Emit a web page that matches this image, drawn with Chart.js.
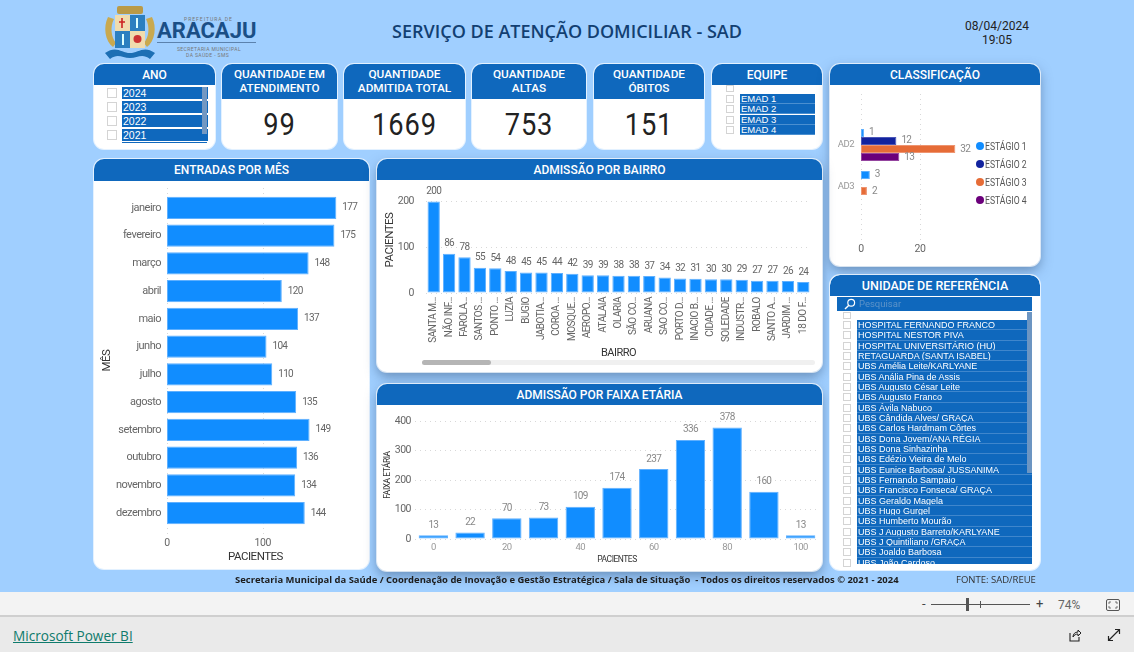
<!DOCTYPE html>
<html lang="pt-BR">
<head>
<meta charset="utf-8">
<title>Serviço de Atenção Domiciliar - SAD</title>
<script src="https://cdn.jsdelivr.net/npm/chart.js@4"></script>
<style>
  html, body { margin: 0; padding: 0; }
  body { width: 1134px; height: 652px; overflow: hidden; position: relative; background: #A0CFFF; font-family: Roboto, sans-serif; }
  .abs, .card, .head, canvas, .txt { position: absolute; }
  .card { background: #fff; border-radius: 10px; box-shadow: 0 0 0 1px rgba(255,255,255,.7); }
  .card.shadow { box-shadow: 0 0 0 1px rgba(255,255,255,.7), 0 5px 12px rgba(50,80,120,.5); }
  .head { left: 0; top: 0; width: 100%; background: #0F68BD; border-radius: 10px 10px 0 0; color: #fff; font-weight: 500; text-align: center; font-size: 12px; line-height: 13.5px; box-sizing: border-box; }
  .kpi { position: absolute; left: 0; width: 100%; top: 43px; text-align: center; font-size: 31px; line-height: 36px; color: #222; letter-spacing: 1px; transform: scaleX(.88); }
  .row { position: absolute; background: #0F68BD; color: #fff; white-space: nowrap; overflow: hidden; font-family: "Liberation Sans", sans-serif; }
  .check { position: absolute; box-sizing: border-box; border: 1px solid #d4d4d4; background: #fff; }
  .txt { white-space: nowrap; }
  .leg { font-size: 11.5px; line-height: 14px; color: #555; transform: scaleX(.75); transform-origin: left center; }
</style>
</head>
<body>
<!-- logo -->
<svg class="abs" style="left:102px;top:3px" width="56" height="57" viewBox="0 0 56 57">
  <path d="M6 14 C1 24 3 38 11 44 L14 40 C9 34 8 24 12 16Z M50 14 C55 24 53 38 45 44 L42 40 C47 34 48 24 44 16Z" fill="#c9a94f"/>
  <rect x="15" y="3" width="26" height="8" rx="2" fill="#b99a48"/>
  <rect x="13" y="12" width="15" height="16" fill="#f0dcae"/>
  <rect x="28" y="12" width="15" height="16" fill="#2b7fc0"/>
  <rect x="13" y="28" width="15" height="17" fill="#2b7fc0"/>
  <rect x="28" y="28" width="15" height="17" fill="#f0dcae"/>
  <path d="M20 15v10M17 19h6" stroke="#c22" stroke-width="1.6"/>
  <circle cx="35.5" cy="36" r="4" fill="#c33"/>
  <path d="M35 15v10M21 31v11" stroke="#dff" stroke-width="2"/>
  <path d="M3 50 C14 42 20 50 28 50 C36 50 42 42 53 50 L48 56 C40 50 36 55 28 55 C20 55 16 50 8 56Z" fill="#1d6fb4"/>
</svg>
<div class="txt" style="left:184px;top:16px;font-size:5px;letter-spacing:1px;color:#777">PREFEITURA DE</div>
<div class="txt" style="left:157px;top:17px;font:700 22px/28px Roboto;color:#1B4F86">ARACAJU</div>
<div class="abs" style="left:157px;top:42px;width:99px;height:1px;background:#5b82ad"></div>
<div class="txt" style="left:177px;top:46px;font-size:5px;line-height:6px;letter-spacing:.4px;color:#777">SECRETARIA MUNICIPAL</div>
<div class="txt" style="left:186px;top:52px;font-size:5px;line-height:6px;letter-spacing:.4px;color:#777">DA SAÚDE - SMS</div>

<div class="txt" style="left:267px;width:600px;top:20px;text-align:center;font:600 18px/23px 'Open Sans';color:#123F72">SERVIÇO DE ATENÇÃO DOMICILIAR - SAD</div>
<div class="txt" style="left:947px;width:100px;top:19px;text-align:center;font-size:12px;line-height:14px;color:#222">08/04/2024<br>19:05</div>

<!-- cards -->
<div class="card" id="cardAno" style="left:94px;top:64px;width:121px;height:85px"><div class="head" style="height:21px;line-height:22px">ANO</div></div>
<div class="card" style="left:222px;top:64px;width:115px;height:85px"><div class="head" style="height:35px;padding-top:4px;font-size:11.7px">QUANTIDADE EM<br>ATENDIMENTO</div><div class="kpi">99</div></div>
<div class="card" style="left:344px;top:64px;width:121px;height:85px"><div class="head" style="height:35px;padding-top:4px;font-size:11.8px">QUANTIDADE<br>ADMITIDA TOTAL</div><div class="kpi">1669</div></div>
<div class="card" style="left:472px;top:64px;width:114px;height:85px"><div class="head" style="height:35px;padding-top:4px;font-size:11.8px">QUANTIDADE<br>ALTAS</div><div class="kpi">753</div></div>
<div class="card" style="left:594px;top:64px;width:110px;height:85px"><div class="head" style="height:35px;padding-top:4px;font-size:11.8px">QUANTIDADE<br>ÓBITOS</div><div class="kpi">151</div></div>
<div class="card" id="cardEquipe" style="left:712px;top:64px;width:110px;height:85px"><div class="head" style="height:21px;line-height:22px">EQUIPE</div></div>

<div class="card shadow" style="left:830px;top:64px;width:210px;height:202px">
  <div class="head" style="height:21px;line-height:22px">CLASSIFICAÇÃO</div>
  <canvas id="chartClass" width="210" height="181" style="left:0;top:21px"></canvas>
  <div id="legendClass"></div>
</div>

<div class="card" style="left:94px;top:159px;width:275px;height:410px">
  <div class="head" style="height:22px;line-height:22px">ENTRADAS POR MÊS</div>
  <canvas id="chartMes" width="275" height="388" style="left:0;top:22px"></canvas>
</div>

<div class="card shadow" style="left:377px;top:159px;width:445px;height:213px">
  <div class="head" style="height:21px;line-height:22px">ADMISSÃO POR BAIRRO</div>
  <canvas id="chartBairro" width="445" height="192" style="left:0;top:21px"></canvas>
  <div class="abs" style="left:45px;top:201px;width:393px;height:5px;border-radius:3px;background:#f0f0f0"></div>
  <div class="abs" style="left:45px;top:201px;width:69px;height:5px;border-radius:3px;background:#b5b5b5"></div>
</div>

<div class="card shadow" style="left:377px;top:384px;width:445px;height:187px">
  <div class="head" style="height:21px;line-height:22px">ADMISSÃO POR FAIXA ETÁRIA</div>
  <canvas id="chartFaixa" width="445" height="166" style="left:0;top:21px"></canvas>
</div>

<div class="card" id="cardUnidade" style="left:830px;top:275px;width:210px;height:295px;overflow:hidden">
  <div class="head" style="height:21px;line-height:22px;font-size:12.5px">UNIDADE DE REFERÊNCIA</div>
  <div class="abs" style="left:7px;top:22px;width:195px;height:14px;background:#0F68BD"></div>
  <svg class="abs" style="left:14px;top:23px" width="12" height="12" viewBox="0 0 12 12"><circle cx="7.2" cy="4.8" r="3.4" fill="none" stroke="#fff" stroke-width="1.2"/><path d="M4.6 7.4L1 11" stroke="#fff" stroke-width="1.4"/></svg>
  <div class="txt" style="left:29px;top:23px;font-size:9.5px;line-height:12px;color:#5d93c8">Pesquisar</div>
</div>

<!-- rodapé -->
<div class="txt" style="left:235px;top:574px;font:700 9.45px/12px 'Open Sans';color:#1d1d1d">Secretaria Municipal da Saúde / Coordenação de Inovação e Gestão Estratégica / Sala de Situação&nbsp; - Todos os direitos reservados © 2021 - 2024</div>
<div class="txt" style="left:956px;top:574px;font:400 9.5px/12px 'Open Sans';color:#333">FONTE: SAD/REUE</div>

<div class="abs" style="left:0;top:592px;width:1134px;height:23px;background:#f3f3f3;border-bottom:2px solid #cfcfcf"></div>
<div class="abs" style="left:0;top:617px;width:1134px;height:35px;background:#eaeaea"></div>
<div class="txt" style="left:922px;top:597px;font-size:13px;line-height:14px;color:#444">-</div>
<div class="abs" style="left:931px;top:604px;width:99px;height:1px;background:#555"></div>
<div class="abs" style="left:966px;top:598px;width:3px;height:13px;background:#555"></div>
<div class="abs" style="left:980px;top:601px;width:1px;height:7px;background:#555"></div>
<div class="txt" style="left:1036px;top:597px;font-size:13px;line-height:14px;color:#444">+</div>
<div class="txt" style="left:1058px;top:598px;font-size:12px;line-height:14px;color:#666">74%</div>
<svg class="abs" style="left:1106px;top:599px" width="14" height="12" viewBox="0 0 14 12"><rect x=".5" y=".5" width="13" height="11" rx="1.5" fill="none" stroke="#555"/><path d="M3 5V3h2M9 3h2v2M11 7v2H9M5 9H3V7" fill="none" stroke="#555" stroke-width=".8"/></svg>
<a class="txt" style="left:13px;top:627px;font:400 13.6px/18px 'Open Sans';color:#0F7B6C;text-decoration:underline">Microsoft Power BI</a>
<svg class="abs" style="left:1068px;top:628px" width="14" height="14" viewBox="0 0 14 14"><path d="M2 5v8h9V9" fill="none" stroke="#222" stroke-width="1.1"/><path d="M5 9c0-3 2-5 5-5V2l3 3-3 3V6C8 6 6 7 5 9z" fill="none" stroke="#222" stroke-width="1"/></svg>
<svg class="abs" style="left:1107px;top:628px" width="14" height="14" viewBox="0 0 14 14"><path d="M2 12L12 2M8 1.5h4.5V6M1.500 8v4.500H6" fill="none" stroke="#222" stroke-width="1.200"/></svg>

<script>
const anos = ['2024', '2023', '2022', '2021'];
const equipes = ['EMAD 1', 'EMAD 2', 'EMAD 3', 'EMAD 4'];
const unidades = [
    'HOSPITAL FERNANDO FRANCO', 'HOSPITAL NESTOR PIVA', 'HOSPITAL UNIVERSITÁRIO (HU)',
    'RETAGUARDA (SANTA ISABEL)', 'UBS Amélia Leite/KARLYANE', 'UBS Anália Pina de Assis',
    'UBS Augusto César Leite', 'UBS Augusto Franco', 'UBS Ávila Nabuco',
    'UBS Cândida Alves/ GRAÇA', 'UBS Carlos Hardmam Côrtes', 'UBS Dona Jovem/ANA RÉGIA',
    'UBS Dona Sinhazinha', 'UBS Edézio Vieira de Melo', 'UBS Eunice Barbosa/ JUSSANIMA',
    'UBS Fernando Sampaio', 'UBS Francisco Fonseca/ GRAÇA', 'UBS Geraldo Magela',
    'UBS Hugo Gurgel', 'UBS Humberto Mourão', 'UBS J Augusto Barreto/KARLYANE',
    'UBS J Quintiliano /GRAÇA', 'UBS Joaldo Barbosa', 'UBS João Cardoso',
];

const meses = ['janeiro', 'fevereiro', 'março', 'abril', 'maio', 'junho', 'julho', 'agosto', 'setembro', 'outubro', 'novembro', 'dezembro'];
const entradasMes = [177, 175, 148, 120, 137, 104, 110, 135, 149, 136, 134, 144];

const bairros = ['SANTA M...', 'NÃO INF...', 'FAROLA...', 'SANTOS ...', 'PONTO ...', 'LUZIA', 'BUGIO', 'JABOTIA...', 'COROA ...', 'MOSQUE...', 'AEROPO...', 'ATALAIA', 'OLARIA', 'SÃO CO...', 'ARUANA', 'SAO CO...', 'PORTO D...', 'INACIO B...', 'CIDADE ...', 'SOLEDADE', 'INDUSTR...', 'ROBALO', 'SANTO A...', 'JARDIM ...', '18 DO F...'];
const admissaoBairro = [200, 86, 78, 55, 54, 48, 45, 45, 44, 42, 39, 39, 38, 38, 37, 34, 32, 31, 30, 30, 29, 27, 27, 26, 24];

const faixas = [0, 10, 20, 30, 40, 50, 60, 70, 80, 90, 100];
const admissaoFaixa = [13, 22, 70, 73, 109, 174, 237, 336, 378, 160, 13];

const classes = ['AD2', 'AD3'];
const estagios = ['ESTÁGIO 1', 'ESTÁGIO 2', 'ESTÁGIO 3', 'ESTÁGIO 4'];
const estagio1 = [1, 3];
const estagio2 = [12, null];
const estagio3 = [32, 2];
const estagio4 = [13, null];

(() => {
    'use strict';

    const BLUE = '#118DFF', NAVY = '#12239E', ORANGE = '#E66C37', PURPLE = '#6B007B';
    const FONT = 'Roboto, sans-serif';

    Chart.defaults.font.family = FONT;
    Chart.defaults.font.size = 11;
    Chart.defaults.color = '#666';
    Chart.defaults.animation = false;

    // A fonte original é mais estreita: aperta o texto de todos os gráficos
    Chart.register({
        id: 'tightText',
        beforeDraw(chart) { chart.ctx.letterSpacing = '-0.5px'; },
    });

    // Rótulo de valor em cada barra
    const barLabels = {
        id: 'barLabels',
        afterDatasetsDraw(chart, args, opts) {
            const ctx = chart.ctx;
            ctx.save();
            ctx.font = (opts.size || 10) + 'px ' + FONT;
            ctx.letterSpacing = '-0.7px';
            ctx.fillStyle = opts.color || '#777';
            chart.data.datasets.forEach((ds, i) => {
                chart.getDatasetMeta(i).data.forEach((el, j) => {
                    if (ds.data[j] == null) return;
                    if (chart.options.indexAxis === 'y') {
                        ctx.textAlign = 'left';
                        ctx.textBaseline = 'middle';
                        ctx.fillText(ds.data[j], el.x + (opts.gap || 5), el.y);
                    } else {
                        ctx.textAlign = 'center';
                        ctx.textBaseline = 'bottom';
                        ctx.fillText(ds.data[j], el.x, el.y - (opts.gap || 4));
                    }
                });
            });
            ctx.restore();
        },
    };

    // Grade pontilhada vertical que passa além da área do gráfico
    const longGrid = {
        id: 'longGrid',
        beforeDatasetsDraw(chart, args, opts) {
            if (!opts.top && !opts.bottom) return;
            const { ctx, chartArea, scales } = chart;
            ctx.save();
            ctx.strokeStyle = '#d8d8d8';
            ctx.setLineDash([1, 4]);
            scales.x.ticks.forEach((t) => {
                const x = Math.round(scales.x.getPixelForValue(t.value)) + 0.5;
                ctx.beginPath();
                ctx.moveTo(x, chartArea.top - opts.top);
                ctx.lineTo(x, chartArea.bottom + opts.bottom);
                ctx.stroke();
            });
            ctx.restore();
        },
    };

    // Tamanho fixo do eixo, para a área do gráfico cair no lugar certo
    function fixed(size) {
        return (s) => {
            if (s.isHorizontal()) {
                s.height = size;
                s.paddingLeft = 0;
                s.paddingRight = 0;
            } else {
                s.width = size;
                s.paddingTop = 0;
                s.paddingBottom = 0;
            }
        };
    }

    const dotted = { dash: [1, 4], display: false };
    const noGrid = { display: false, drawTicks: false };
    const noBorder = { display: false };

    function barSet(label, data, color, border) {
        return { label, data, backgroundColor: color, borderColor: border, borderWidth: 1, borderSkipped: false };
    }

    function buildMes() {
        new Chart(document.getElementById('chartMes'), {
            type: 'bar',
            data: { labels: meses, datasets: [{ ...barSet('Entradas', entradasMes, BLUE, '#5FB0FF'), categoryPercentage: 0.8, barPercentage: 1 }] },
            plugins: [barLabels, longGrid],
            options: {
                indexAxis: 'y', responsive: false,
                layout: { padding: { top: 13, right: 25 } },
                plugins: { legend: { display: false }, tooltip: { enabled: false }, barLabels: { size: 10, gap: 6, color: '#666' }, longGrid: { top: 6, bottom: 8 } },
                scales: {
                    x: {
                        min: 0, max: 185, afterFit: fixed(42),
                        grid: noGrid, border: noBorder,
                        ticks: { stepSize: 100, includeBounds: false, padding: 10, maxRotation: 0, font: { size: 10.5 } },
                        title: { display: true, text: 'PACIENTES', color: '#333', font: { size: 11.5 }, padding: { top: 0, bottom: 5 } },
                    },
                    y: {
                        afterFit: fixed(73),
                        grid: noGrid, border: noBorder,
                        ticks: { padding: 6, autoSkip: false, font: { size: 11 } },
                        title: { display: true, text: 'MÊS', color: '#333', font: { size: 11.5 }, padding: { top: 6, bottom: 0 } },
                    },
                },
            },
        });
    }

    function buildBairro() {
        new Chart(document.getElementById('chartBairro'), {
            type: 'bar',
            data: { labels: bairros, datasets: [{ ...barSet('Admissões', admissaoBairro, BLUE, '#5FB0FF'), categoryPercentage: 0.8, barPercentage: 1 }] },
            plugins: [barLabels],
            options: {
                responsive: false,
                layout: { padding: { top: 7, right: 11 } },
                plugins: { legend: { display: false }, tooltip: { enabled: false }, barLabels: { size: 10, gap: 5, color: '#666' } },
                scales: {
                    x: {
                        afterFit: fixed(79),
                        grid: noGrid, border: noBorder,
                        ticks: { autoSkip: false, minRotation: 90, maxRotation: 90, padding: 4, font: { size: 10 } },
                        title: { display: true, text: 'BAIRRO', color: '#333', font: { size: 11 }, padding: { top: 0, bottom: 12 } },
                    },
                    y: {
                        min: 0, max: 232, afterFit: fixed(49),
                        grid: { color: '#d8d8d8', drawTicks: false }, border: dotted,
                        ticks: { stepSize: 100, includeBounds: false, padding: 12, font: { size: 10.5 } },
                        title: { display: true, text: 'PACIENTES', color: '#333', font: { size: 11.5 }, padding: { top: 6, bottom: 0 } },
                    },
                },
            },
        });
    }

    function buildFaixa() {
        new Chart(document.getElementById('chartFaixa'), {
            type: 'bar',
            data: { labels: faixas, datasets: [{ ...barSet('Admissões', admissaoFaixa, BLUE, '#5FB0FF'), categoryPercentage: 0.8, barPercentage: 1 }] },
            plugins: [barLabels],
            options: {
                responsive: false,
                layout: { padding: { top: 6, right: 3 } },
                plugins: { legend: { display: false }, tooltip: { enabled: false }, barLabels: { size: 10, gap: 5, color: '#888' } },
                scales: {
                    x: {
                        afterFit: fixed(32),
                        grid: noGrid, border: noBorder,
                        ticks: {
                            autoSkip: false, maxRotation: 0, padding: 3, color: '#999', font: { size: 9.5 },
                            callback: (v, i) => (i % 2 ? '' : faixas[i]),
                        },
                        title: { display: true, text: 'PACIENTES', color: '#333', font: { size: 8.5 }, padding: { top: 0, bottom: 6 } },
                    },
                    y: {
                        min: 0, max: 434, afterFit: fixed(38),
                        grid: { color: '#d8d8d8', drawTicks: false }, border: dotted,
                        ticks: { stepSize: 100, includeBounds: false, padding: 4, font: { size: 10.5 } },
                        title: { display: true, text: 'FAIXA ETÁRIA', color: '#333', font: { size: 8.5 }, padding: { top: 6, bottom: 0 } },
                    },
                },
            },
        });
    }

    function buildClass() {
        const pct = { categoryPercentage: 0.762, barPercentage: 1 };
        new Chart(document.getElementById('chartClass'), {
            type: 'bar',
            data: {
                labels: classes,
                datasets: [
                    { ...barSet(estagios[0], estagio1, BLUE, '#5FB0FF'), ...pct },
                    { ...barSet(estagios[1], estagio2, NAVY, '#4A56B8'), ...pct },
                    { ...barSet(estagios[2], estagio3, ORANGE, '#EE9470'), ...pct },
                    { ...barSet(estagios[3], estagio4, PURPLE, '#94459F'), ...pct },
                ],
            },
            plugins: [barLabels, longGrid],
            options: {
                indexAxis: 'y', responsive: false,
                layout: { padding: { top: 39, right: 64 } },
                plugins: { legend: { display: false }, tooltip: { enabled: false }, barLabels: { size: 10, gap: 5, color: '#888' }, longGrid: { top: 30, bottom: 34 } },
                scales: {
                    x: {
                        min: 0, max: 39, afterFit: fixed(58),
                        grid: noGrid, border: noBorder,
                        ticks: { stepSize: 20, includeBounds: false, padding: 35, maxRotation: 0, font: { size: 10.5 } },
                    },
                    y: {
                        afterFit: fixed(31),
                        grid: noGrid, border: noBorder,
                        ticks: { padding: 7, color: '#999', font: { size: 9.5 } },
                    },
                },
            },
        });

        // legenda
        const box = document.getElementById('legendClass');
        [BLUE, NAVY, ORANGE, PURPLE].forEach((c, i) => {
            const y = [82, 99.500, 117.500, 135.500][i];
            box.insertAdjacentHTML('beforeend',
                `<div class="abs" style="left:146px;top:${y - 4}px;width:8px;height:8px;border-radius:50%;background:${c}"></div>` +
                `<div class="txt leg" style="left:155px;top:${y - 7}px">${estagios[i]}</div>`);
        });
    }

    function buildSlicers() {
        const ano = document.getElementById('cardAno');
        anos.forEach((a, i) => {
            const y = 23 + i * 14;
            ano.insertAdjacentHTML('beforeend',
                `<div class="check" style="left:13px;top:${y + 1}px;width:10px;height:10px"></div>` +
                `<div class="row" style="left:28px;top:${y}px;width:85px;height:12px;font:400 10.5px/13px 'Liberation Sans';padding-left:1px">${a}</div>`);
        });
        ano.insertAdjacentHTML('beforeend',
            '<div class="abs" style="left:108px;top:23px;width:5px;height:47px;background:#7398C2"></div>' +
            '<div class="abs" style="left:28px;top:78px;width:85px;height:1px;background:#0F68BD"></div>');

        const equipe = document.getElementById('cardEquipe');
        equipe.insertAdjacentHTML('beforeend', '<div class="check" style="left:14px;top:21px;width:8px;height:7px"></div>');
        equipes.forEach((e, i) => {
            const y = 30 + i * 10.35;
            equipe.insertAdjacentHTML('beforeend',
                `<div class="check" style="left:14px;top:${y + 1}px;width:8px;height:8px"></div>` +
                `<div class="row" style="left:28px;top:${y}px;width:75px;height:10px;font-size:9.5px;line-height:10px;padding-left:1px;border-bottom:1px solid #4a8fd0;box-sizing:border-box">${e}</div>`);
        });

        const unidade = document.getElementById('cardUnidade');
        unidade.insertAdjacentHTML('beforeend',
            '<div class="check" style="left:13px;top:37px;width:8px;height:7px"></div>' +
            '<div class="abs" style="left:27px;top:45px;width:175px;height:244px;background:#0F68BD;overflow:hidden" id="listaUnidade"></div>');
        const lista = document.getElementById('listaUnidade');
        unidades.forEach((u, i) => {
            const y = 45 + i * 10.33;
            unidade.insertAdjacentHTML('beforeend', `<div class="check" style="left:13px;top:${y + 1}px;width:8px;height:8px"></div>`);
            lista.insertAdjacentHTML('beforeend',
                `<div class="row" style="left:0;top:${i * 10.33}px;width:175px;height:10.330px;font-size:9px;line-height:10px;padding-left:1px;border-bottom:1px solid #3f86cc;box-sizing:border-box">${u}</div>`);
        });
        unidade.insertAdjacentHTML('beforeend', '<div class="abs" style="left:197px;top:37px;width:5px;height:161px;background:#6C95C2"></div>');
    }

    buildSlicers();
    buildMes();
    buildBairro();
    buildFaixa();
    buildClass();
})();
</script>
</body>
</html>
